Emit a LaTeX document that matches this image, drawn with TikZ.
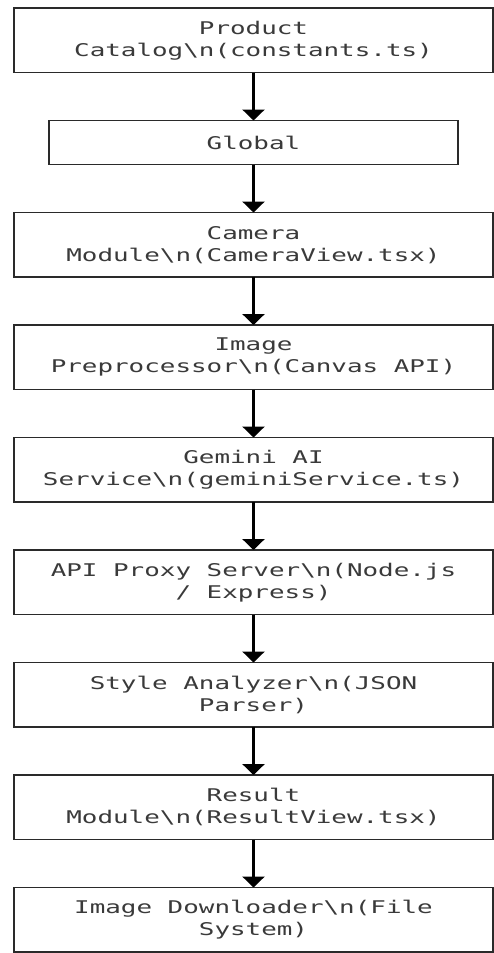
\documentclass[tikz,border=0pt]{standalone}
\usepackage{fontspec}
\usepackage{xcolor}
\usepackage{tikz}
\usetikzlibrary{arrows.meta,positioning}
\newfontfamily\diagfont[FakeStretch=1.48]{DejaVu Sans Mono}
\definecolor{diagink}{HTML}{3A3A3A}
\definecolor{diagedge}{HTML}{2A2A2A}
\tikzset{
  >={Triangle[length=11pt,width=22pt]},
  modbox/.style={draw=diagedge,line width=1.8pt,fill=white,align=center,
                 font=\diagfont\fontsize{17.5}{22}\selectfont,text=diagink,
                 minimum width=479pt,minimum height=64.5pt,inner sep=2pt,
                 outer sep=0pt},
  gatebox/.style={modbox,minimum width=409pt,minimum height=44pt},
  flowarrow/.style={->,line width=2.6pt,draw=black},
}

\begin{document}
\begin{tikzpicture}[node distance=48pt]
  \useasboundingbox (0,0) rectangle (494pt,-953pt);
  % nine stages, top to bottom
  \node[modbox] (catalog) at (253.5pt,-40.25pt)
    {Product\\Catalog\textbackslash n(constants.ts)};
  \node[gatebox, below=of catalog] (global) {Global};
  \node[modbox, below=of global] (camera)
    {Camera\\Module\textbackslash n(CameraView.tsx)};
  \node[modbox, below=of camera] (preproc)
    {Image\\Preprocessor\textbackslash n(Canvas API)};
  \node[modbox, below=of preproc] (gemini)
    {Gemini AI\\Service\textbackslash n(geminiService.ts)};
  \node[modbox, below=of gemini] (proxy)
    {API Proxy Server\textbackslash n(Node.js\\/ Express)};
  \node[modbox, below=of proxy] (analyzer)
    {Style Analyzer\textbackslash n(JSON\\Parser)};
  \node[modbox, below=of analyzer] (result)
    {Result\\Module\textbackslash n(ResultView.tsx)};
  \node[modbox, below=of result] (downloader)
    {Image Downloader\textbackslash n(File\\System)};
  % connectors
  \draw[flowarrow] (catalog.south) -- (global.north);
  \draw[flowarrow] (global.south) -- (camera.north);
  \draw[flowarrow] (camera.south) -- (preproc.north);
  \draw[flowarrow] (preproc.south) -- (gemini.north);
  \draw[flowarrow] (gemini.south) -- (proxy.north);
  \draw[flowarrow] (proxy.south) -- (analyzer.north);
  \draw[flowarrow] (analyzer.south) -- (result.north);
  \draw[flowarrow] (result.south) -- (downloader.north);
\end{tikzpicture}
\end{document}
